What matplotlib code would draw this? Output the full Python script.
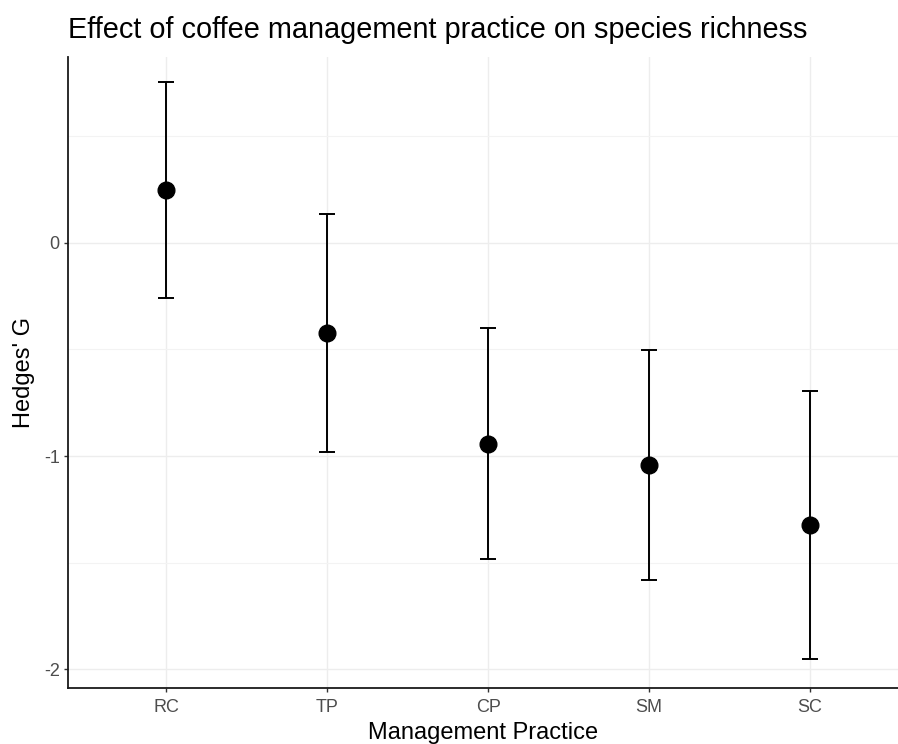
import matplotlib.pyplot as plt

plt.rcParams['font.family'] = ['Liberation Sans', 'DejaVu Sans']

practices = ['RC', 'TP', 'CP', 'SM', 'SC']
hedges_g = [0.249, -0.423, -0.944, -1.042, -1.324]
ci_lower = [-0.258, -0.981, -1.484, -1.582, -1.953]
ci_upper = [0.756, 0.136, -0.399, -0.502, -0.695]

fig = plt.figure(figsize=(8.98, 7.44), dpi=100)
ax = fig.add_axes([68 / 898, 1 - 688 / 744, 1 - 68 / 898, (688 - 57) / 744])

x = list(range(len(practices)))
err_low = [g - lo for g, lo in zip(hedges_g, ci_lower)]
err_high = [hi - g for g, hi in zip(hedges_g, ci_upper)]
ax.errorbar(x, hedges_g, yerr=[err_low, err_high], fmt='o', color='black',
            markersize=12, elinewidth=1.4, capsize=6, capthick=1.4, zorder=3)

ax.set_xlim(-0.61, 4.547)
ax.set_ylim(-2.089, 0.873)
ax.set_xticks(x)
ax.set_xticklabels(practices)
ax.set_yticks([-2, -1, 0])
ax.set_yticklabels(['-2', '-1', '0'])
ax.set_yticks([-1.5, -0.5, 0.5], minor=True)

ax.grid(True, which='major', color='#EDEDED', linewidth=1.0, zorder=0)
ax.grid(True, which='minor', axis='y', color='#F3F3F3', linewidth=0.8, zorder=0)
ax.set_axisbelow(True)

for side in ['top', 'right']:
    ax.spines[side].set_visible(False)
for side in ['left', 'bottom']:
    ax.spines[side].set_linewidth(1.3)
    ax.spines[side].set_color('#1a1a1a')

ax.tick_params(axis='both', which='major', length=3, width=1.0, color='#333333',
               labelsize=13, labelcolor='#4D4D4D', pad=3)
ax.tick_params(axis='x', which='major', pad=5)
ax.tick_params(axis='y', which='minor', length=0)

ax.set_xlabel('Management Practice', fontsize=17, labelpad=4)
ax.set_ylabel("Hedges' G", fontsize=17, labelpad=6)
ax.set_title('Effect of coffee management practice on species richness',
             fontsize=20.8, loc='left', pad=14)

fig.savefig('out.png', dpi=100)
